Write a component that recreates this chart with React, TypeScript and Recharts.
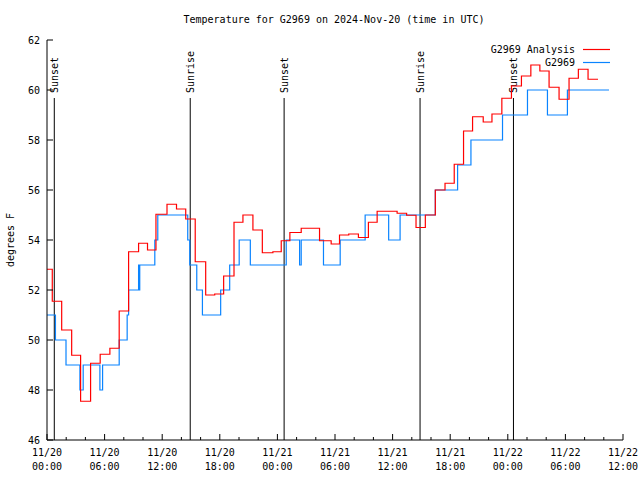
import React from 'react';
import { LineChart, Line, XAxis, YAxis, ReferenceLine } from 'recharts';

const FONT = '"DejaVu Sans Mono", "Liberation Mono", monospace';

// Hours since 2024-11-20 00:00 UTC
const analysisTimes = [0, 0.55, 1.53, 2.57, 3.5, 4.54, 5.54, 6.55, 7.52, 8.5, 9.54, 10.47, 11.35, 12.5, 13.49, 14.45, 15.44, 16.53, 17.47, 18.4, 19.48, 20.41, 21.45, 22.43, 23.53, 24.4, 25.3, 26.48, 27.45, 28.39, 29.6, 30.47, 31.43, 32.44, 33.48, 34.39, 35.45, 36.47, 37.46, 38.44, 39.41, 40.45, 41.46, 42.42, 43.39, 44.33, 45.44, 46.35, 47.38, 48.38, 49.42, 50.4, 51.34, 52.3, 53.34, 54.38, 55.35, 56.36, 57.4];
const analysisValues = [52.83, 51.55, 50.4, 49.39, 47.55, 49.07, 49.43, 49.67, 51.16, 53.53, 53.87, 53.6, 55.03, 55.43, 55.24, 54.84, 53.13, 51.8, 51.84, 52.56, 54.71, 55.0, 54.4, 53.49, 53.53, 53.97, 54.3, 54.47, 54.47, 53.97, 53.84, 54.2, 54.24, 54.1, 54.71, 55.15, 55.15, 55.07, 54.99, 54.5, 55.0, 56.0, 56.27, 57.03, 58.36, 58.93, 58.72, 59.04, 59.67, 60.16, 60.56, 61.0, 60.76, 60.11, 59.63, 60.47, 60.83, 60.43, 60.43];

const stationTimes = [0, 0.88, 1.98, 3.43, 3.77, 5.51, 5.79, 7.52, 8.35, 8.5, 9.54, 9.6, 9.66, 11.23, 11.54, 14.66, 14.87, 15.6, 16.19, 18.09, 19.03, 20.02, 21.18, 24.92, 26.31, 26.48, 28.8, 30.54, 33.14, 35.59, 36.78, 40.45, 42.77, 44.16, 47.45, 50.05, 52.13, 54.21, 58.54];
const stationValues = [51, 50, 49, 48, 49, 48, 49, 50, 51, 52, 53, 52, 53, 54, 55, 54, 53, 52, 51, 52, 53, 54, 53, 54, 53, 54, 53, 54, 55, 54, 55, 56, 57, 58, 59, 60, 59, 60, 60];

const sunTimes = [0.76, 14.92, 24.7, 38.86, 48.59];
const sunLabels = ['Sunset', 'Sunrise', 'Sunset', 'Sunrise', 'Sunset'];
const sunLineTop = 59.68;

const xTicks = [0, 2, 4, 6, 8, 10, 12, 14, 16, 18, 20, 22, 24, 26, 28, 30, 32, 34, 36, 38, 40, 42, 44, 46, 48, 50, 52, 54, 56, 58, 60];
const xMajorHours = [0, 6, 12, 18, 24, 30, 36, 42, 48, 54, 60];
const xMajorDates = ['11/20', '11/20', '11/20', '11/20', '11/21', '11/21', '11/21', '11/21', '11/22', '11/22', '11/22'];
const xMajorTimes = ['00:00', '06:00', '12:00', '18:00', '00:00', '06:00', '12:00', '18:00', '00:00', '06:00', '12:00'];
const yTicks = [46, 48, 50, 52, 54, 56, 58, 60, 62];

const analysisData = analysisTimes.map((t, i) => ({ t, v: analysisValues[i] }));
const stationData = stationTimes.map((t, i) => ({ t, v: stationValues[i] }));

const BottomTick = (props: any) => {
  const { x, y, payload } = props;
  const idx = xMajorHours.indexOf(payload.value);
  const major = idx >= 0;
  return (
    <g>
      <line x1={x} y1={y} x2={x} y2={y - (major ? 6 : 3)} stroke="#000" />
      {major && (
        <text x={x} y={y + 16} textAnchor="middle" fontFamily={FONT} fontSize={10} fill="#000">
          {xMajorDates[idx]}
        </text>
      )}
      {major && (
        <text x={x} y={y + 30} textAnchor="middle" fontFamily={FONT} fontSize={10} fill="#000">
          {xMajorTimes[idx]}
        </text>
      )}
    </g>
  );
};

const TopTick = (props: any) => {
  const { x, y, payload } = props;
  const major = xMajorHours.indexOf(payload.value) >= 0;
  return <line x1={x} y1={y} x2={x} y2={y + (major ? 6 : 3)} stroke="#000" />;
};

const LeftTick = (props: any) => {
  const { x, y, payload } = props;
  return (
    <g>
      <line x1={x} y1={y} x2={x + 6} y2={y} stroke="#000" />
      <text x={x - 7} y={y + 4} textAnchor="end" fontFamily={FONT} fontSize={10} fill="#000">
        {payload.value}
      </text>
    </g>
  );
};

const RightTick = (props: any) => {
  const { x, y } = props;
  return <line x1={x} y1={y} x2={x - 6} y2={y} stroke="#000" />;
};

const SunLabel = (props: any) => {
  const { viewBox, text } = props;
  if (!viewBox) return null;
  const lx = viewBox.x + 4;
  const ly = viewBox.y - 5;
  return (
    <text x={lx} y={ly} transform={`rotate(-90 ${lx} ${ly})`} fontFamily={FONT} fontSize={10} fill="#000">
      {text}
    </text>
  );
};

export default function App() {
  return (
    <div style={{ position: 'absolute', left: 0, top: 0, width: 640, height: 480, background: '#fff' }}>
      <LineChart width={640} height={480} margin={{ top: 40, right: 17, bottom: 0, left: 0 }}>
        <XAxis
          xAxisId="b"
          type="number"
          dataKey="t"
          domain={[0, 60]}
          ticks={xTicks}
          interval={0}
          height={40}
          tickSize={0}
          tickMargin={0}
          tickLine={false}
          tick={<BottomTick />}
          axisLine={{ stroke: '#000' }}
          allowDataOverflow
        />
        <XAxis
          xAxisId="t"
          orientation="top"
          type="number"
          dataKey="t"
          domain={[0, 60]}
          ticks={xTicks}
          interval={0}
          height={0}
          tickSize={0}
          tickMargin={0}
          tickLine={false}
          tick={<TopTick />}
          axisLine={{ stroke: '#000' }}
          allowDataOverflow
        />
        <YAxis
          yAxisId="l"
          type="number"
          domain={[46, 62]}
          ticks={yTicks}
          interval={0}
          width={47}
          tickSize={0}
          tickMargin={0}
          tickLine={false}
          tick={<LeftTick />}
          axisLine={{ stroke: '#000' }}
          allowDataOverflow
        />
        <YAxis
          yAxisId="r"
          orientation="right"
          type="number"
          domain={[46, 62]}
          ticks={yTicks}
          interval={0}
          width={0}
          tickSize={0}
          tickMargin={0}
          tickLine={false}
          tick={<RightTick />}
          axisLine={{ stroke: '#000' }}
          allowDataOverflow
        />
        {sunTimes.map((h, i) => (
          <ReferenceLine
            key={'sun' + i}
            xAxisId="b"
            yAxisId="l"
            segment={[{ x: h, y: sunLineTop }, { x: h, y: 46 }]}
            stroke="#000"
            strokeWidth={1}
            ifOverflow="visible"
            label={<SunLabel text={sunLabels[i]} />}
          />
        ))}
        <Line
          xAxisId="b"
          yAxisId="l"
          data={stationData}
          dataKey="v"
          type="stepAfter"
          stroke="#0a84ff"
          strokeWidth={1.2}
          dot={false}
          isAnimationActive={false}
        />
        <Line
          xAxisId="b"
          yAxisId="l"
          data={analysisData}
          dataKey="v"
          type="stepAfter"
          stroke="#ff0000"
          strokeWidth={1.2}
          dot={false}
          isAnimationActive={false}
        />
      </LineChart>
      <svg width={640} height={480} style={{ position: 'absolute', left: 0, top: 0, pointerEvents: 'none' }}>
        <text x={334} y={23} textAnchor="middle" fontFamily={FONT} fontSize={10} fill="#000">
          Temperature for G2969 on 2024-Nov-20 (time in UTC)
        </text>
        <text x={14} y={240} transform="rotate(-90 14 240)" textAnchor="middle" fontFamily={FONT} fontSize={10} fill="#000">
          degrees F
        </text>
        <text x={575} y={53} textAnchor="end" fontFamily={FONT} fontSize={10} fill="#000">
          G2969 Analysis
        </text>
        <line x1={583} y1={49.5} x2={610} y2={49.5} stroke="#ff0000" strokeWidth={1.2} />
        <text x={575} y={66} textAnchor="end" fontFamily={FONT} fontSize={10} fill="#000">
          G2969
        </text>
        <line x1={583} y1={62.5} x2={610} y2={62.5} stroke="#0a84ff" strokeWidth={1.2} />
      </svg>
    </div>
  );
}
